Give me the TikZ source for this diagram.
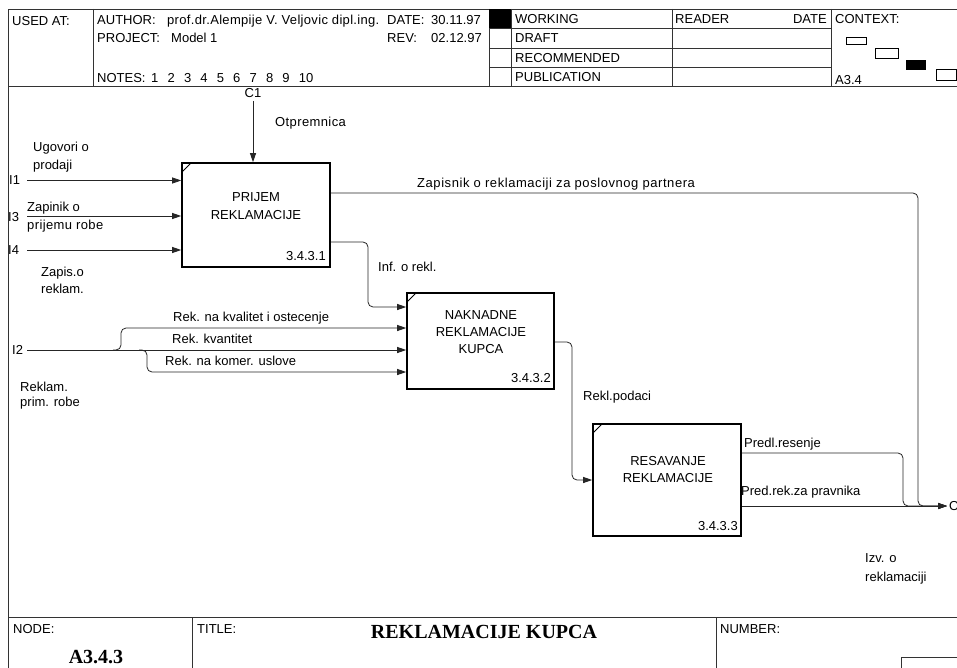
\documentclass[tikz,border=0pt]{standalone}
\usepackage{fontspec}
\setmainfont{Liberation Sans}
\newfontfamily\tsfont{Liberation Serif}
\usetikzlibrary{arrows.meta,calc}
\begin{document}
\begin{tikzpicture}[x=1pt,y=-1pt,
  frame/.style={line width=0.8pt, draw=black!80},
  conn/.style={line width=0.8pt, draw=black!85, -{Triangle[length=9pt,width=6pt]}},
  rc/.style={rounded corners=5pt},
  lbl/.style={inner sep=0pt, anchor=west, text height=9.3pt, text depth=0pt, font=\fontsize{13}{15}\selectfont},
  lblr/.style={lbl, anchor=east},
  lblc/.style={lbl, anchor=center},
  big/.style={inner sep=0pt, anchor=center, text height=13.2pt, text depth=0pt, font=\tsfont\bfseries\fontsize{20}{24}\selectfont},
  actbox/.style={draw=black, line width=1.6pt, minimum width=148pt, inner sep=0pt, fill=white},
  tick/.style={line width=1pt, draw=black}
]
\useasboundingbox (0,0) rectangle (957,668);
\fill[white] (0,0) rectangle (957,668);

% ---------- frame and header ----------
\draw[frame] (957,9) -- (8,9) -- (8,668);
\draw[frame] (8,86) -- (957,86);
\draw[frame] (93,9) -- (93,86);
\draw[frame] (489,9) -- (489,86);
\draw[frame] (511,9) -- (511,86);
\draw[frame] (672,9) -- (672,86);
\draw[frame] (831,9) -- (831,86);
\foreach \yy in {28,48,67} \draw[frame] (489,\yy) -- (831,\yy);

\node[lbl] (usedat) at (12,20.5) {USED AT:};
\node[lbl] (author) at (97,20) {AUTHOR:};
\node[lbl] (authorname) at (167,20) {\addfontfeatures{LetterSpace=2.5}prof.dr.Alempije V. Veljovic dipl.ing.};
\node[lbl] (datelbl) at (387,20) {DATE:};
\node[lbl] (dateval) at (431,20) {30.11.97};
\node[lbl] (project) at (97,38) {PROJECT:};
\node[lbl] (projname) at (171,38) {Model 1};
\node[lbl] (revlbl) at (387,38) {REV:};
\node[lbl] (revval) at (431,38) {02.12.97};
\node[lbl] (notes) at (97,78) {NOTES:};
\foreach \nx/\nt [count=\i] in {151/1,167.4/2,183.8/3,200.2/4,216.6/5,233/6,249.4/7,265.8/8,282.2/9,298.6/10}
  \node[lbl] (note\i) at (\nx,78) {\nt};

\fill[black] (489,9) rectangle (511,28);
\node[lbl] (working) at (515,18.5) {WORKING};
\node[lbl] (draft) at (515,38) {DRAFT};
\node[lbl] (recom) at (515,57.5) {RECOMMENDED};
\node[lbl] (public) at (515,76.5) {PUBLICATION};
\node[lbl] (reader) at (675,18.5) {READER};
\node[lblr] (rdate) at (827,18.5) {DATE};
\node[lbl] (context) at (835,18.5) {CONTEXT:};
\node[lbl] (ctxnode) at (835,79.5) {A3.4};
\draw[line width=0.7pt] (846,37) rectangle (866,44);
\draw[line width=0.7pt] (875,48) rectangle (898,58);
\fill[black] (906,60) rectangle (926,70);
\draw[line width=0.7pt] (936,69) rectangle (956,80);

% ---------- activity boxes ----------
\node[actbox, minimum height=104pt] (b1) at (256,215) {};
\node[actbox, minimum width=147pt, minimum height=96pt] (b2) at (480.5,341) {};
\node[actbox, minimum height=112pt] (b3) at (667,480) {};
\foreach \b in {b1,b2,b3}
  \draw[tick] ($(\b.north west)+(1.6,9)$) -- ($(\b.north west)+(9,1.6)$);

\node[lblc] (b1t1) at (256,197) {PRIJEM};
\node[lblc] (b1t2) at (256,215) {REKLAMACIJE};
\node[lblr] (b1n) at (326,256) {3.4.3.1};
\node[lblc] (b2t1) at (481,315) {NAKNADNE};
\node[lblc] (b2t2) at (481,332) {REKLAMACIJE};
\node[lblc] (b2t3) at (481,348.5) {KUPCA};
\node[lblr] (b2n) at (551,378) {3.4.3.2};
\node[lblc] (b3t1) at (668,461) {RESAVANJE};
\node[lblc] (b3t2) at (668,478) {REKLAMACIJE};
\node[lblr] (b3n) at (738,526) {3.4.3.3};

% ---------- control ----------
\node[lblc] (c1lbl) at (253,93) {C1};
\coordinate (C1) at (253,101);
\draw[conn] (C1) -- (C1 |- b1.north);
\node[lbl] (otpr) at (275,122) {\addfontfeatures{LetterSpace=3}Otpremnica};

% ---------- inputs to box 1 ----------
\node[lbl] (i1lbl) at (9,180) {I1};
\node[lbl] (i3lbl) at (8,216.5) {I3};
\node[lbl] (i4lbl) at (8,250) {I4};
\coordinate (I1) at (27,180.5);
\coordinate (I3) at (27,216);
\coordinate (I4) at (27,250);
\draw[conn] (I1) -- (I1 -| b1.west);
\draw[conn] (I3) -- (I3 -| b1.west);
\draw[conn] (I4) -- (I4 -| b1.west);
\node[lbl] (ug1) at (33,147) {Ugovori o};
\node[lbl] (ug2) at (33,165) {prodaji};
\node[lbl] (zp1) at (27,207) {Zapinik o};
\node[lbl] (zp2) at (27,225) {\addfontfeatures{LetterSpace=3}prijemu robe};
\node[lbl] (zr1) at (41,272) {Zapis.o};
\node[lbl] (zr2) at (41,289) {reklam.};

% ---------- box 1 outputs ----------
\coordinate (O1) at (947,506);
\coordinate (Zc) at (918,193);
\draw[conn, rc] (b1.east |- Zc) -- (Zc) -- (Zc |- O1) -- (O1);
\node[lbl] (zapisnik) at (417,183) {\addfontfeatures{LetterSpace=4.3}Zapisnik o reklamaciji za poslovnog partnera};

\coordinate (Ic) at (368,242);
\coordinate (Iin) at (368,307);
\draw[conn, rc] (b1.east |- Ic) -- (Ic) -- (Iin) -- (Iin -| b2.west);
\node[lbl] (inf) at (378,267) {Inf. o rekl.};

% ---------- inputs to box 2 ----------
\node[lbl] (i2lbl) at (12,350) {I2};
\coordinate (I2) at (27,350);
\draw[conn] (I2) -- (I2 -| b2.west);
\coordinate (Ua) at (121,350);
\coordinate (Ub) at (121,328);
\draw[conn, rc] ($(Ua)+(-8,0)$) -- (Ua) -- (Ub) -- (Ub -| b2.west);
\coordinate (La) at (147,350);
\coordinate (Lb) at (147,372);
\draw[conn, rc] ($(La)+(-8,0)$) -- (La) -- (Lb) -- (Lb -| b2.west);
\node[lbl] (rk1) at (173,317) {Rek. na kvalitet i ostecenje};
\node[lbl] (rk2) at (172,339) {Rek. kvantitet};
\node[lbl] (rk3) at (165,361) {Rek. na komer. uslove};
\node[lbl] (rp1) at (20,387) {Reklam.};
\node[lbl] (rp2) at (20,402) {prim. robe};

% ---------- box 2 output ----------
\coordinate (Rc) at (572,342);
\coordinate (Rin) at (572,480);
\draw[conn, rc] (b2.east |- Rc) -- (Rc) -- (Rin) -- (Rin -| b3.west);
\node[lbl] (rekl) at (583,396) {Rekl.podaci};

% ---------- box 3 outputs ----------
\coordinate (Pc) at (903,453);
\draw[conn, rc] (b3.east |- Pc) -- (Pc) -- (Pc |- O1) -- (O1);
\draw[conn] (b3.east |- O1) -- (O1);
\node[lbl] (predl) at (744,443) {Predl.resenje};
\node[lbl] (predrek) at (741,491) {Pred.rek.za pravnika};
\node[lbl] (o1lbl) at (949,506) {O1};
\node[lbl] (izv1) at (865,558) {Izv. o};
\node[lbl] (izv2) at (865,577) {reklamaciji};

% ---------- footer ----------
\draw[frame] (8,617) -- (957,617);
\draw[frame] (192,617) -- (192,668);
\draw[frame] (716,617) -- (716,668);
\draw[frame] (957,657) -- (901,657) -- (901,668);
\node[lbl] (nodelbl) at (13,629) {NODE:};
\node[lbl] (titlelbl) at (197,629) {TITLE:};
\node[lbl] (numberlbl) at (720,629) {NUMBER:};
\node[big] (nodeval) at (96,657) {A3.4.3};
\node[big] (titleval) at (484,632) {REKLAMACIJE KUPCA};
\end{tikzpicture}
\end{document}
